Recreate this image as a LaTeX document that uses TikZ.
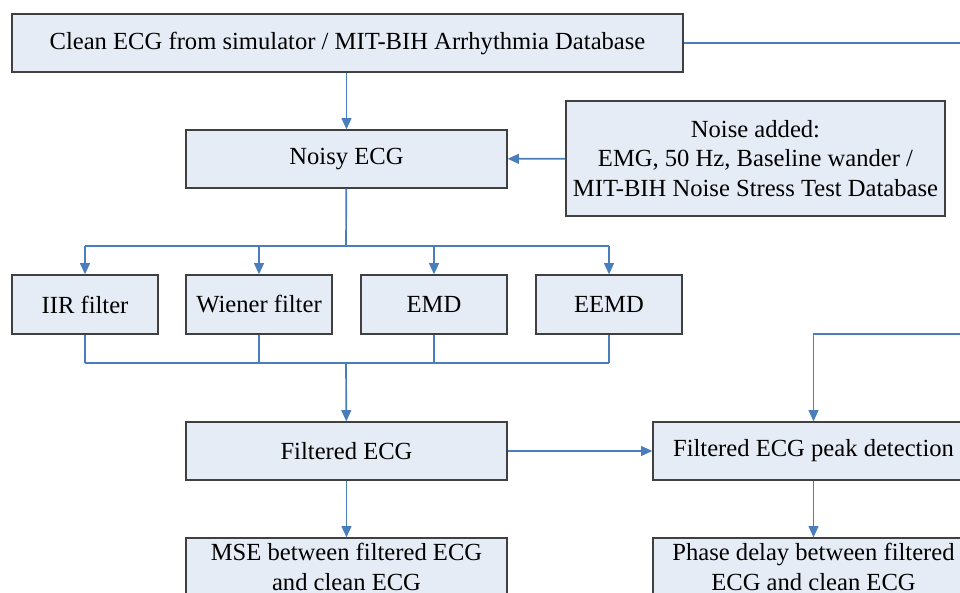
\documentclass[tikz,border=0pt]{standalone}
\usepackage{fontspec}
\setmainfont{Liberation Serif}
\usetikzlibrary{arrows.meta}

\definecolor{flowblue}{HTML}{4A7EBB}
\definecolor{boxfill}{HTML}{E6ECF6}

\tikzset{
    block/.style={draw=black!75, fill=boxfill, line width=0.9pt, align=center,
        inner sep=2pt, font=\fontsize{17.5}{21}\selectfont},
    wideblock/.style={block, minimum width=8.025cm, minimum height=1.45cm},
    filterbox/.style={block, minimum width=3.65cm, minimum height=1.475cm},
    flow/.style={draw=flowblue, line width=1.2pt},
    flowarrow/.style={flow, -{Triangle[length=8pt,width=7pt]}},
}

\begin{document}
\begin{tikzpicture}[x=0.025cm, y=-0.025cm]
    \useasboundingbox (0,0) rectangle (960,592);
    \clip (0,0) rectangle (960,592);

    % sources
    \node[block, minimum width=16.775cm, minimum height=1.45cm] (clean) at (347.5,43)
        {Clean ECG from simulator / MIT-BIH Arrhythmia Database};
    \node[wideblock] (noisy) at (346.5,159) {Noisy ECG};
    \node[block, minimum width=9.475cm, minimum height=2.875cm] (noise) at (755.5,158.5)
        {Noise added:\\EMG, 50 Hz, Baseline wander /\\MIT-BIH Noise Stress Test Database};

    % filters
    \foreach \name/\xc/\txt in {iir/85/IIR filter, wiener/259/Wiener filter, emd/434/EMD, eemd/609/EEMD} {
        \node[filterbox] (\name) at (\xc,304.5) {\txt};
    }

    % results
    \node[wideblock] (filt) at (346.5,451) {Filtered ECG};
    \node[wideblock] (peak) at (813.5,451) {Filtered ECG peak detection};
    \node[wideblock] (mse) at (346.5,567) {MSE between filtered ECG\\and clean ECG};
    \node[wideblock] (phase) at (813.5,567) {Phase delay between filtered\\ECG and clean ECG};

    \coordinate (split) at (346,246);
    \coordinate (merge) at (346,363);
    \coordinate (loop) at (1000,334);

    % connectors
    \draw[flowarrow] (clean.south -| noisy) -- (noisy);
    \draw[flowarrow] (noise) -- (noisy);
    \draw[flow] (noisy) -- (split);
    \draw[flow] (split -| iir) -- (split -| eemd);
    \draw[flow] (merge -| iir) -- (merge -| eemd);
    \foreach \name in {iir,wiener,emd,eemd} {
        \draw[flowarrow] (split -| \name) -- (\name);
        \draw[flow] (\name) -- (merge -| \name);
    }
    \draw[flowarrow] (merge) -- (filt);
    \draw[flowarrow] (filt) -- (peak);
    \draw[flowarrow] (filt) -- (mse);
    \draw[flowarrow] (peak) -- (phase);
    \draw[flowarrow] (clean.east) -| (loop) -- (loop -| peak) -- (peak.north);
\end{tikzpicture}
\end{document}
